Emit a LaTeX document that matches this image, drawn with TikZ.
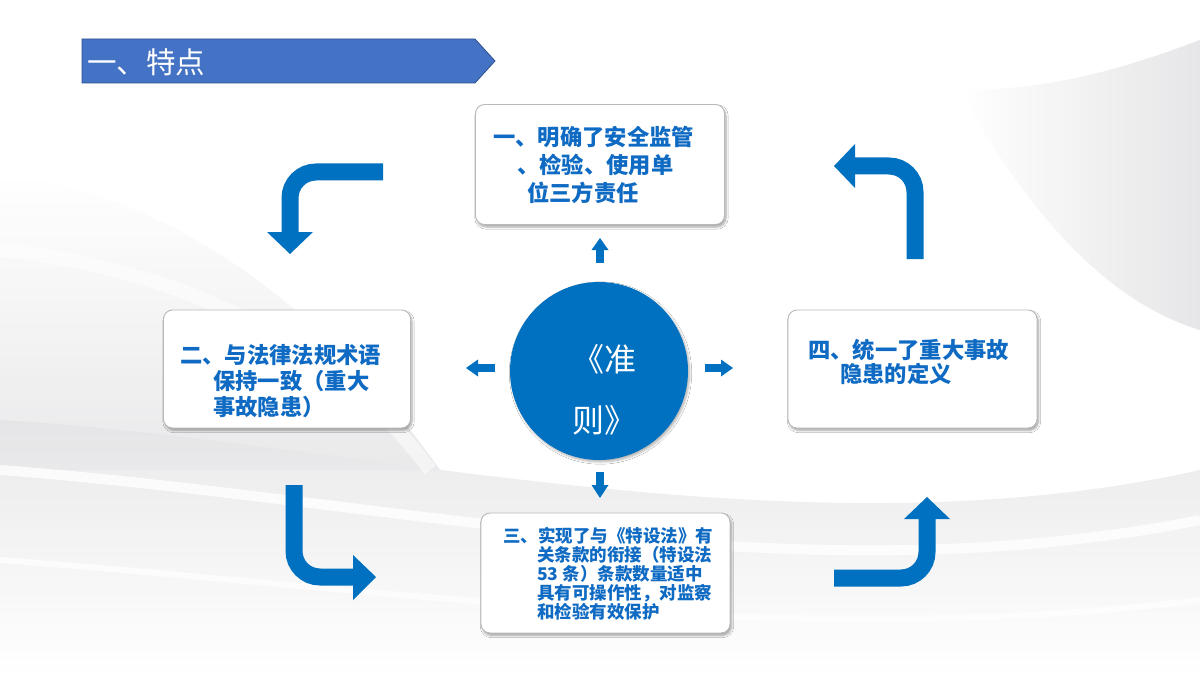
\documentclass[tikz,border=0pt]{standalone}
\usepackage{fontspec}
\setmainfont{Noto Sans CJK SC}
\usetikzlibrary{shadows.blur}
\definecolor{boxblue}{RGB}{0,112,192}
\definecolor{textblue}{RGB}{14,106,194}
\definecolor{titleblue}{RGB}{68,114,196}
\definecolor{titleborder}{RGB}{47,82,143}
\definecolor{bggray}{RGB}{228,228,230}
\tikzset{
  cardbox/.style={draw=gray!55, line width=0.9pt, fill=white, rounded corners=9pt,
    inner sep=0pt, blur shadow={shadow xshift=1.5pt, shadow yshift=-2.5pt, shadow opacity=35, shadow blur steps=6}},
  cardtext/.style={anchor=west, inner sep=0pt, align=left, text=textblue, font=\bfseries},
  bigshaft/.style={draw=boxblue, line width=17pt, rounded corners=26pt},
  smallshaft/.style={draw=boxblue, line width=8pt},
  headfill/.style={fill=boxblue}
}
\begin{document}
\begin{tikzpicture}[x=1pt,y=-1pt]
\useasboundingbox (0,0) rectangle (1200,674);
% background
\fill[white] (0,0) rectangle (1200,674);
\shade[top color=white, bottom color=bggray, opacity=0.8]
  (0,175) .. controls (160,190) and (320,300) .. (440,470) -- (0,470) -- cycle;
\shade[top color=bggray, bottom color=white, opacity=0.8]
  (0,420) .. controls (350,440) and (800,560) .. (1200,470) -- (1200,674) -- (0,674) -- cycle;
\shade[left color=white, right color=bggray, opacity=0.9]
  (960,90) .. controls (1050,90) and (1120,70) .. (1200,40) -- (1200,330) .. controls (1100,300) and (1020,200) .. (960,90) -- cycle;
\draw[white, line width=10pt, opacity=0.8] (0,470) .. controls (400,500) and (800,600) .. (1200,520);
\draw[white, line width=6pt, opacity=0.7] (0,560) .. controls (400,590) and (800,650) .. (1200,600);
\draw[white, line width=14pt, opacity=0.5] (0,250) .. controls (200,270) and (350,360) .. (430,470);

% title banner
\filldraw[fill=titleblue, draw=titleborder, line width=0.8pt]
  (82,39) -- (475,39) -- (495,61) -- (475,83) -- (82,83) -- cycle;
\node[anchor=west, inner sep=0pt, text=white, font=\fontsize{29.5}{32}\selectfont] (title) at (87,62) {一、特点};

% cards
\node[cardbox, minimum width=249pt, minimum height=120pt] (c1) at (600,164.5) {};
\node[cardbox, minimum width=247pt, minimum height=118pt] (c2) at (287,369) {};
\node[cardbox, minimum width=249pt, minimum height=118pt] (c4) at (912.5,369) {};
\node[cardbox, minimum width=249pt, minimum height=120pt] (c3) at (605.5,573) {};

\node[cardtext, font=\bfseries\fontsize{22.3}{28}\selectfont] (t1) at (493,165)
  {一、明确了安全监管\\\hspace*{24pt}、检验、使用单\\\hspace*{34pt}位三方责任};
\node[cardtext, font=\bfseries\fontsize{22.3}{26}\selectfont] (t2) at (180,381)
  {二、与法律法规术语\\\hspace*{33pt}保持一致（重大\\\hspace*{33pt}事故隐患）};
\node[cardtext, font=\bfseries\fontsize{22.3}{24}\selectfont] (t4) at (808,362)
  {四、统一了重大事故\\\hspace*{32pt}隐患的定义};
\node[cardtext, font=\bfseries\fontsize{17.5}{19}\selectfont] (t3) at (503,574)
  {三、实现了与《特设法》有\\\hspace*{34pt}关条款的衔接（特设法\\\hspace*{34pt}53 条）条款数量适中\\\hspace*{34pt}具有可操作性，对监察\\\hspace*{34pt}和检验有效保护};

% centre circle
\node[circle, fill=boxblue, minimum size=178pt, inner sep=0pt,
  blur shadow={shadow xshift=1.5pt, shadow yshift=-2pt, shadow opacity=30, shadow blur steps=6}] (hub) at (599,371) {};
\node[text=white, align=center, inner sep=0pt, font=\fontsize{32}{61}\selectfont] (hubtext) at (604,390) {《准\\则》};

% small arrows around hub
\coordinate (uA) at (600,263); \coordinate (uB) at (600,249);
\draw[smallshaft] (uA) -- (uB);
\fill[headfill] (591.5,250) -- (608.5,250) -- (600,238) -- cycle;
\coordinate (dA) at (600,472); \coordinate (dB) at (600,486);
\draw[smallshaft] (dA) -- (dB);
\fill[headfill] (591.5,485) -- (608.5,485) -- (600,498) -- cycle;
\coordinate (lA) at (495,368); \coordinate (lB) at (477,368);
\draw[smallshaft] (lA) -- (lB);
\fill[headfill] (478,359.5) -- (478,376.5) -- (466,368) -- cycle;
\coordinate (rA) at (705,368); \coordinate (rB) at (722,368);
\draw[smallshaft] (rA) -- (rB);
\fill[headfill] (721,359.5) -- (721,376.5) -- (733,368) -- cycle;

% big curved arrows
\coordinate (aS) at (383,172); \coordinate (aE) at (290,233);
\draw[bigshaft] (aS) -| (aE);
\fill[headfill] (267,232) -- (313,232) -- (290,254) -- cycle;

\coordinate (bS) at (915,259); \coordinate (bE) at (854,166);
\draw[bigshaft] (bS) |- (bE);
\fill[headfill] (855,144) -- (855,188) -- (834,166) -- cycle;

\coordinate (cS) at (294,485); \coordinate (cE) at (354,577);
\draw[bigshaft] (cS) |- (cE);
\fill[headfill] (353,555) -- (353,600) -- (376,577) -- cycle;

\coordinate (dS) at (834,578); \coordinate (dE) at (927,518);
\draw[bigshaft] (dS) -| (dE);
\fill[headfill] (904,519) -- (950,519) -- (927,497) -- cycle;
\end{tikzpicture}
\end{document}
